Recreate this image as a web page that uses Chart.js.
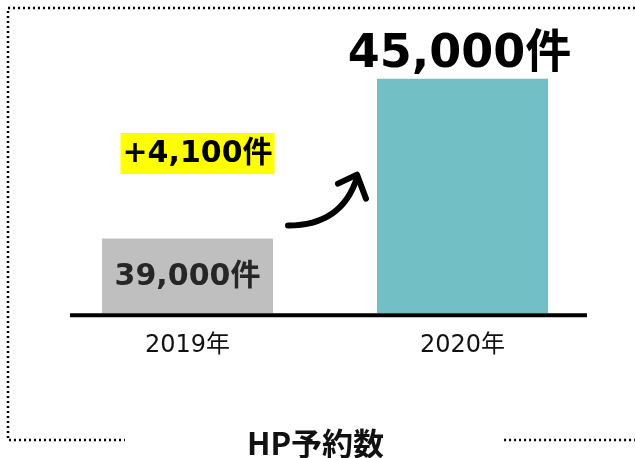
<!DOCTYPE html>
<html>
<head>
<meta charset="utf-8">
<script src="https://cdn.jsdelivr.net/npm/chart.js@4"></script>
<style>
  html, body { margin: 0; padding: 0; background: #fff; }
  #wrap { width: 635px; height: 458px; position: relative; }
</style>
</head>
<body>
<div id="wrap"><canvas id="chart"></canvas></div>
<script>
// dati
const years = ["2019年", "2020年"];
const reservations = [39000, 45000];
const valueLabels = ["39,000件", "45,000件"];
const diffLabel = "+4,100件";
const chartTitle = "HP予約数";
const barColors = ["#BFBFBF", "#72BFC5"];
const yMin = 36200;
const yMax = 47200;

const FONT = '"DejaVu Sans", "Noto Sans CJK JP", sans-serif';
const TITLE_FONT = 'bold 31px "Noto Sans CJK JP", sans-serif';
Chart.defaults.font.family = FONT;

// etichette, freccia, linea di base, titolo e cornice tratteggiata
const decorations = {
  id: "decorations",
  afterDatasetsDraw(chart) {
    const { ctx, chartArea } = chart;
    const bars = chart.getDatasetMeta(0).data;
    const b1 = bars[0], b2 = bars[1];

    ctx.save();
    // baseline
    ctx.strokeStyle = "#000";
    ctx.lineWidth = 4;
    ctx.beginPath();
    ctx.moveTo(chartArea.left + 20, chartArea.bottom + 2);
    ctx.lineTo(chartArea.right - 13, chartArea.bottom + 2);
    ctx.stroke();

    ctx.textAlign = "center";
    ctx.textBaseline = "middle";

    // valore 2019 dentro la barra
    ctx.fillStyle = "#262626";
    ctx.font = "bold 30px " + FONT;
    ctx.fillText(valueLabels[0], b1.x, (b1.y + chartArea.bottom) / 2 + 1);

    // valore 2020 sopra la barra
    ctx.fillStyle = "#000";
    ctx.font = "bold 46px " + FONT;
    ctx.fillText(valueLabels[1], b2.x - 3, b2.y - 24);

    // differenza su sfondo giallo
    ctx.font = "bold 30px " + FONT;
    const dx = b1.x + 10, dy = b1.y - 85;
    const w = ctx.measureText(diffLabel).width + 4;
    ctx.fillStyle = "#FFFF00";
    ctx.fillRect(dx - w / 2, dy - 20.5, w, 41);
    ctx.fillStyle = "#000";
    ctx.fillText(diffLabel, dx, dy + 1);

    // freccia curva
    const tx = b1.x + b1.width / 2 + 15, ty = b1.y - 13;
    const hx = b2.x - b2.width / 2 - 20, hy = b2.y + 96;
    ctx.strokeStyle = "#000";
    ctx.lineWidth = 6;
    ctx.lineCap = "round";
    ctx.lineJoin = "round";
    ctx.beginPath();
    ctx.moveTo(tx, ty);
    ctx.bezierCurveTo(tx + 28, ty, hx - 12, ty - 10, hx, hy + 3);
    ctx.stroke();
    ctx.beginPath();
    ctx.moveTo(hx - 19, hy + 9);
    ctx.lineTo(hx, hy);
    ctx.lineTo(hx + 9, hy + 24);
    ctx.stroke();
    ctx.restore();
  },
  afterDraw(chart) {
    const { ctx, width } = chart;
    ctx.save();
    // titolo in basso
    ctx.font = TITLE_FONT;
    ctx.fillStyle = "#111";
    ctx.textAlign = "center";
    ctx.textBaseline = "middle";
    const cx = width / 2 - 2;
    ctx.fillText(chartTitle, cx, 443);
    const tw = ctx.measureText(chartTitle).width;

    // cornice tratteggiata
    ctx.strokeStyle = "#000";
    ctx.lineWidth = 2.5;
    ctx.setLineDash([2, 3]);
    ctx.beginPath();
    ctx.moveTo(width, 8);
    ctx.lineTo(8, 8);
    ctx.lineTo(8, 440);
    ctx.lineTo(cx - tw / 2 - 122, 440);
    ctx.moveTo(cx + tw / 2 + 120, 440);
    ctx.lineTo(width, 440);
    ctx.stroke();
    ctx.restore();
  }
};

new Chart(document.getElementById("chart"), {
  type: "bar",
  data: {
    labels: years,
    datasets: [{
      data: reservations,
      backgroundColor: barColors,
      borderWidth: 0,
      categoryPercentage: 1,
      barPercentage: 0.622
    }]
  },
  options: {
    responsive: true,
    maintainAspectRatio: false,
    animation: false,
    layout: { padding: { top: 20, left: 50, right: 35, bottom: 80 } },
    plugins: {
      legend: { display: false },
      tooltip: { enabled: false },
      title: { display: false }
    },
    scales: {
      x: {
        grid: { display: false, drawTicks: false },
        border: { display: false },
        ticks: { color: "#111", font: { size: 24 }, padding: 18 }
      },
      y: { display: false, min: yMin, max: yMax }
    }
  },
  plugins: [decorations]
});
</script>
</body>
</html>
